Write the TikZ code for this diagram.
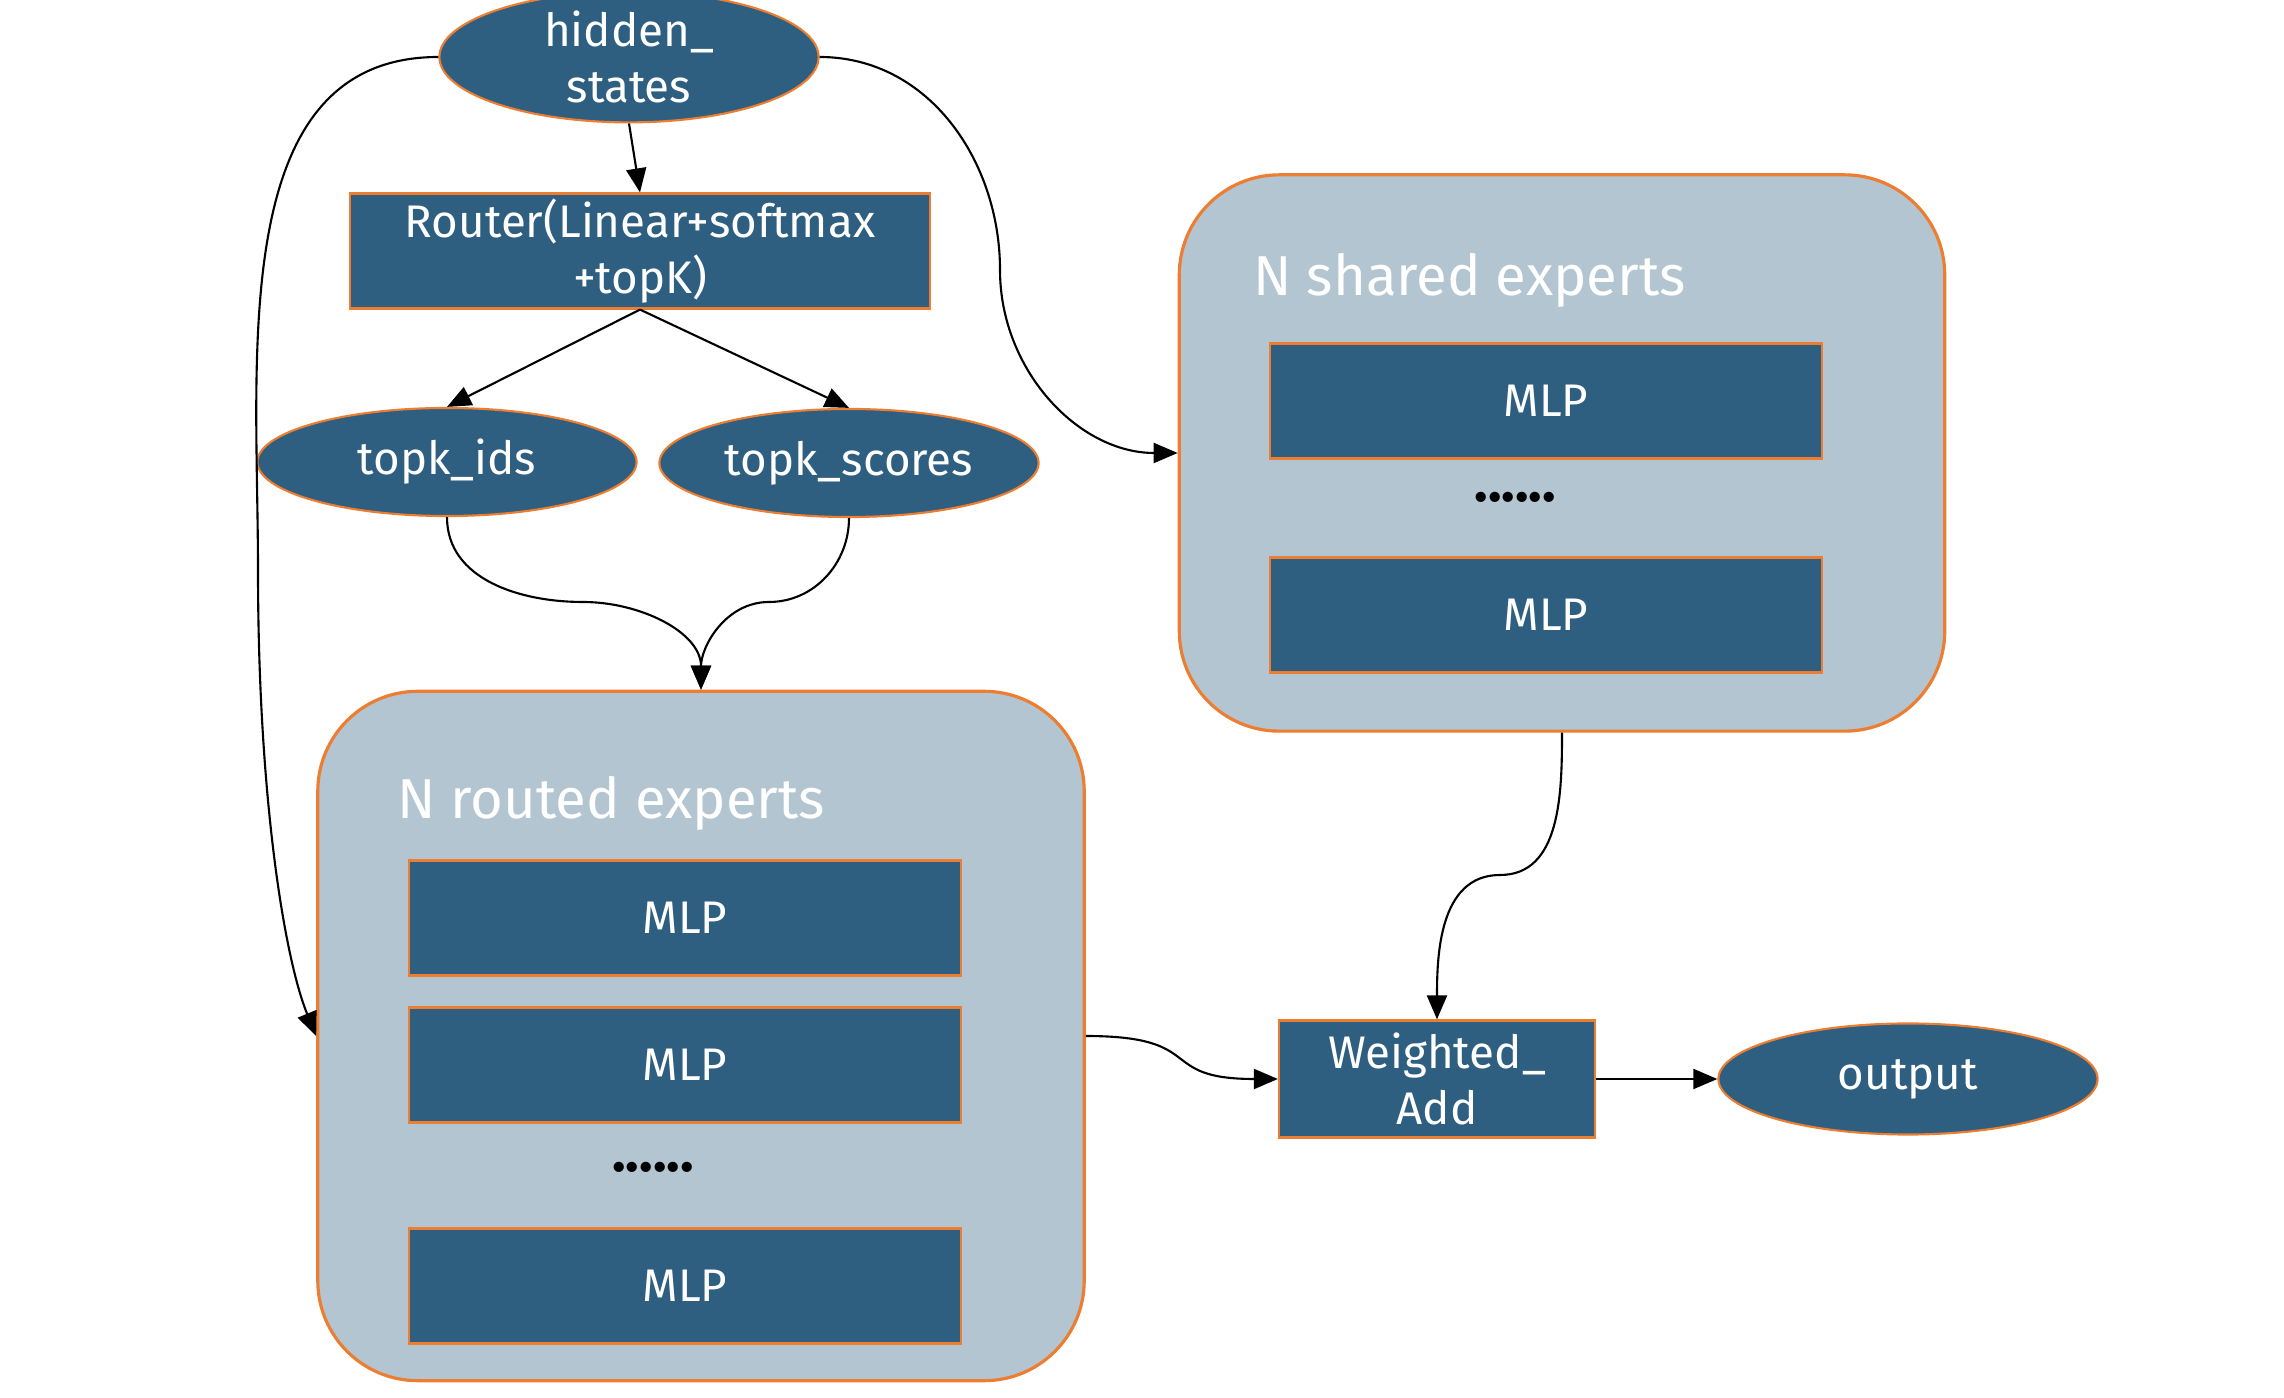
\documentclass[tikz,border=0pt]{standalone}
\usepackage{fontspec}
\setmainfont{Fira Sans}
\usetikzlibrary{arrows.meta,shapes.geometric}
\definecolor{deep}{HTML}{2E5F80}
\definecolor{pale}{HTML}{B2C5D1}
\definecolor{edge}{HTML}{ED7D31}

\begin{document}
\begin{tikzpicture}[
  x=0.01cm,y=0.01cm,
  font=\fontsize{13}{16}\selectfont,
  blk/.style={draw=edge,line width=0.6pt,fill=deep,text=white,align=center,inner sep=0pt},
  box/.style={blk,rectangle},
  oval/.style={blk,ellipse,minimum width=3.79cm,minimum height=1.08cm},
  mlp/.style={box,minimum width=5.52cm,minimum height=1.15cm},
  group/.style={draw=edge,line width=0.9pt,fill=pale,rounded corners=1cm,inner sep=0pt},
  gtitle/.style={anchor=west,text=white,font=\fontsize{16}{19}\selectfont},
  dots/.style={font=\fontsize{16}{19}\selectfont\bfseries},
  arr/.style={-{Triangle[length=2.4mm,width=2mm]},line width=0.6pt}
]
\useasboundingbox (0,0) rectangle (2284,-1398);

% router part
\node[oval] (hs) at (629,-57) {hidden\_\\states};
\node[box,minimum width=5.79cm,minimum height=1.15cm] (router) at (640,-251) {Router(Linear+softmax\\+topK)};
\node[oval] (ids) at (447,-462) {topk\_ids};
\node[oval] (scores) at (849,-463) {topk\_scores};

% shared experts
\node[group,minimum width=7.65cm,minimum height=5.56cm] (shared) at (1562,-453) {};
\node[gtitle] (stitle) at (1241,-280) {N shared experts};
\node[mlp] (s1) at (1546,-401) {MLP};
\node[dots] (sdots) at (1515,-497) {......};
\node[mlp] (s2) at (1546,-615) {MLP};

% routed experts
\node[group,minimum width=7.66cm,minimum height=6.89cm] (routed) at (701,-1036) {};
\node[gtitle] (rtitle) at (385,-803) {N routed experts};
\node[mlp] (r1) at (685,-918) {MLP};
\node[mlp] (r2) at (685,-1065) {MLP};
\node[dots] (rdots) at (653,-1167) {......};
\node[mlp] (r3) at (685,-1286) {MLP};

% combine
\node[box,minimum width=3.16cm,minimum height=1.17cm] (wadd) at (1437,-1079) {Weighted\_\\Add};
\node[oval,minimum height=1.11cm] (out) at (1908,-1079) {output};

\draw[arr] (hs.south) -- (router.north);
\draw[arr] (router.south) -- (ids.north);
\draw[arr] (router.south) -- (scores.north);
\draw[arr] (ids.south) to[out=-90,in=180] (583,-602) to[out=0,in=90] (routed.north);
\draw[arr] (scores.south) to[out=-90,in=0] (769,-602) to[out=180,in=90] (routed.north);
\draw[arr] (hs.west) to[out=180,in=90] (258,-570) .. controls (258,-800) and (285,-960) .. (routed.west);
\draw[arr] (hs.east) to[out=0,in=90] (1000,-270) to[out=-90,in=180] (shared.west);
\draw[arr] (shared.south) to[out=-90,in=0] (1500,-875) to[out=180,in=90] (wadd.north);
\draw[arr] (routed.east) to[out=0,in=180,looseness=1.6] (wadd.west);
\draw[arr] (wadd.east) -- (out.west);
\end{tikzpicture}
\end{document}
